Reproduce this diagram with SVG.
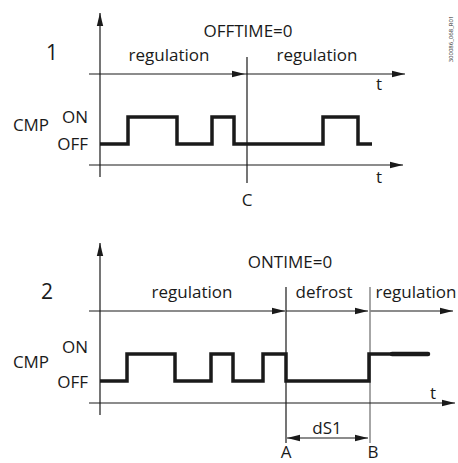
<svg xmlns="http://www.w3.org/2000/svg" width="458" height="463" viewBox="0 0 458 463">
<style>
text{font-family:"Open Sans","Liberation Sans",sans-serif;fill:#1a1a1a;font-size:17px}
.ax{stroke:#1a1a1a;stroke-width:1.2;fill:none}
.sig{stroke:#1a1a1a;stroke-width:3.5;fill:none;stroke-linejoin:miter}
.gray{stroke:#888;stroke-width:1.5;fill:none}
</style>
<defs>
<marker id="ah" markerWidth="14" markerHeight="8" refX="13" refY="4" orient="auto" markerUnits="userSpaceOnUse"><path d="M0,0.8 L13,4 L0,7.2 Z" fill="#1a1a1a"/></marker>
<marker id="ahs" markerWidth="14" markerHeight="8" refX="13" refY="4" orient="auto-start-reverse" markerUnits="userSpaceOnUse"><path d="M0,0.8 L13,4 L0,7.2 Z" fill="#1a1a1a"/></marker>
</defs>
<text x="453" y="39" text-anchor="middle" transform="rotate(-90 453 39)" style="font-size:6px">300086_068_R01</text>
<g id="panel1">
<text x="52" y="60" style="font-size:21px" text-anchor="middle">1</text>
<text x="248" y="37" text-anchor="middle">OFFTIME=0</text>
<text x="169" y="61" text-anchor="middle">regulation</text>
<text x="317" y="61" text-anchor="middle">regulation</text>
<text x="379" y="90" text-anchor="middle">t</text>
<text x="379" y="183" text-anchor="middle">t</text>
<text x="88" y="123" text-anchor="end">ON</text>
<text x="88" y="150" text-anchor="end">OFF</text>
<text x="31" y="131" text-anchor="middle">CMP</text>
<text x="247" y="206" text-anchor="middle">C</text>
</g>
<g id="panel2">
<text x="47" y="299" style="font-size:21px" text-anchor="middle">2</text>
<text x="290" y="268" text-anchor="middle">ONTIME=0</text>
<text x="192" y="298" text-anchor="middle">regulation</text>
<text x="324" y="298" text-anchor="middle">defrost</text>
<text x="416" y="298" text-anchor="middle">regulation</text>
<text x="433" y="399" text-anchor="middle">t</text>
<text x="88" y="353" text-anchor="end">ON</text>
<text x="88" y="388" text-anchor="end">OFF</text>
<text x="31" y="368" text-anchor="middle">CMP</text>
<text x="327" y="434" text-anchor="middle">dS1</text>
<text x="286" y="458" text-anchor="middle">A</text>
<text x="373" y="458" text-anchor="middle">B</text>
</g>
<g id="connectors">
<line class="ax" x1="100" y1="177" x2="100" y2="13" marker-end="url(#ah)"/>
<line class="ax" x1="89" y1="74" x2="245" y2="74" marker-end="url(#ah)"/>
<line class="ax" x1="245" y1="74" x2="405" y2="74" marker-end="url(#ah)"/>
<line class="ax" x1="247" y1="57" x2="247" y2="183"/>
<line class="ax" x1="89" y1="165" x2="403" y2="165" marker-end="url(#ah)"/>
<path class="sig" d="M100,144 H128 V117 H177 V144 H212 V117 H234 V144 H323 V117 H358 V144 H372"/>
<line class="ax" x1="100" y1="415" x2="100" y2="243" marker-end="url(#ah)"/>
<line class="ax" x1="89" y1="311" x2="285" y2="311" marker-end="url(#ah)"/>
<line class="ax" x1="286" y1="311" x2="368" y2="311" marker-end="url(#ah)"/>
<line class="ax" x1="370" y1="311" x2="453" y2="311" marker-end="url(#ah)"/>
<line class="ax" x1="286" y1="287" x2="286" y2="443"/>
<line class="gray" x1="370" y1="287" x2="370" y2="443"/>
<line class="ax" x1="89" y1="403" x2="455" y2="403" marker-end="url(#ah)"/>
<path class="sig" d="M100,381 H127 V354 H175 V381 H211 V354 H233 V381 H263 V354 H286 V381 H369 V354 H392"/>
<line x1="392" y1="354" x2="428" y2="354" stroke="#1a1a1a" stroke-width="4.5" stroke-linecap="round"/>
<line class="ax" x1="287" y1="438" x2="368" y2="438" marker-start="url(#ahs)" marker-end="url(#ah)"/>
</g>
</svg>
